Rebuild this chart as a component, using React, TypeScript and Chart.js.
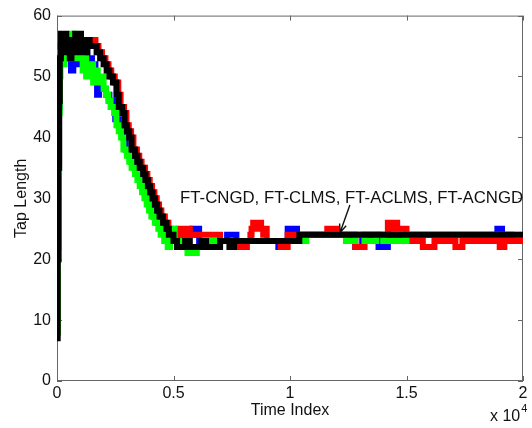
import React, { useEffect, useRef } from 'react';
import { Chart, registerables } from 'chart.js';

Chart.register(...registerables);

// ---- Data (time index, tap length) ----
const blackT = [0,30,60,90,120,170,250,320,400,470,550,620,700,780,860,950,1030,1120,1200,1300,1400,1550,1700,1850,2000,2130,2250,2400,2550,2650,2800,2900,3000,3100,3200,3350,3450,3550,3700,3800,3900,4000,4100,4200,4300,4400,4550,4700,4800,5000,5150,5500,5700,6200,6400,7000,7400,7600,10400,20000];
const blackV = [7,20,35,46,53,57,54,57,54,56,53,56,55,57,54,57,55,56,54,56,55,55,54,53,52,51,50,49,47,45,44,42,41,40,38,37,36,35,34,33,32,31,30,29,28,27,26,25,24,23,22,23,22,23,22,23,22,23,24,24];

const greenT = [0,30,60,90,120,150,250,330,420,520,600,650,720,820,900,1000,1100,1150,1250,1300,1380,1450,1550,1650,1750,1850,2000,2100,2200,2300,2450,2550,2650,2750,2850,3000,3100,3200,3350,3450,3550,3650,3750,3850,3950,4050,4200,4350,4450,4600,4750,4850,4950,5050,5600,6000,6400,10700,12400,12800,13200,13700,14000,15000,20000];
const greenV = [8,20,34,44,50,54,52,54,53,54,53,57,53,54,53,54,51,53,50,52,50,52,49,51,49,50,48,47,46,45,44,42,41,40,38,37,36,35,34,33,32,31,30,29,28,27,26,25,24,23,22,24,25,23,21,22,23,24,23,24,23,24,23,24,24];

const redT = [0,30,60,90,120,170,350,480,600,800,950,1100,1300,1500,1650,1780,1930,2080,2210,2330,2480,2630,2730,2880,2980,3080,3180,3280,3430,3530,3630,3780,3880,3980,4080,4180,4280,4380,4480,4630,4780,4880,5080,5200,5260,5330,5420,5500,5600,5650,5700,7000,7550,8150,8300,8350,8420,8480,8550,8620,8700,8760,8850,8920,9000,9600,9900,11600,11700,11800,12000,12800,13200,14200,14300,14350,14450,14550,14600,15000,15700,16200,17100,17400,19000,19200,20000];
const redV = [8,22,36,47,53,55,56,54,56,54,55,56,55,56,55,54,53,52,51,50,49,47,45,44,42,41,40,38,37,36,35,34,33,32,31,30,29,28,27,26,25,24,23,25,24,25,24,25,24,25,24,23,22,23,24,25,26,25,26,25,26,25,24,25,23,22,24,25,24,25,24,22,24,26,25,26,25,26,25,23,22,23,22,23,22,23,23];

const blueT = [0,30,60,90,120,160,400,500,600,700,800,900,1100,1300,1500,1650,1720,1800,1950,2100,2250,2400,2500,2650,2750,2850,2950,3100,3200,3300,3450,3550,3650,3750,3850,3950,4050,4150,4300,4450,4600,4800,5100,5800,5850,5900,6000,6050,6100,7300,7700,9500,9600,9900,9950,10000,10150,10200,10300,12800,13100,13800,14200,18000,18100,18800,18900,19100,19500,20000];
const blueV = [8,20,35,45,52,55,53,55,51,54,52,55,54,53,52,50,47,49,48,47,46,45,43,42,41,40,38,37,36,35,34,33,32,31,30,29,28,27,26,25,24,23,24,25,24,25,24,25,23,24,23,22,23,25,24,25,24,25,24,22,24,22,24,23,24,23,25,24,23,23];

const xTickValues = [0, 5000, 10000, 15000, 20000];
const xTickLabels = ['0', '0.5', '1', '1.5', '2'];
const yTickValues = [0, 10, 20, 30, 40, 50, 60];

const annotationText = 'FT-CNGD, FT-CLMS, FT-ACLMS, FT-ACNGD';
const annotationAnchor = { x: 5280, y: 29.3 };
const arrowFrom = { x: 12570, y: 28.9 };
const arrowTo = { x: 12150, y: 24.4 };

const FONT_FAMILY = '"Liberation Sans", Arial, Helvetica, sans-serif';

function toPoints(t: number[], v: number[]) {
  return t.map((x, i) => ({ x, y: v[i] }));
}

const decor = {
  id: 'decor',
  beforeDatasetsDraw(chart: any) {
    const { ctx, chartArea: a, scales } = chart;
    const xs = scales.x;
    const ys = scales.y;
    ctx.save();
    ctx.strokeStyle = '#666666';
    ctx.lineWidth = 1;
    ctx.strokeRect(a.left + 0.5, a.top + 0.5, a.right - a.left - 1, a.bottom - a.top - 1);
    ctx.beginPath();
    const tl = 5;
    for (const v of xTickValues) {
      const px = Math.round(xs.getPixelForValue(v)) + 0.5;
      ctx.moveTo(px, a.bottom);
      ctx.lineTo(px, a.bottom - tl);
      ctx.moveTo(px, a.top);
      ctx.lineTo(px, a.top + tl);
    }
    for (const v of yTickValues) {
      const py = Math.round(ys.getPixelForValue(v)) + 0.5;
      ctx.moveTo(a.left, py);
      ctx.lineTo(a.left + tl, py);
      ctx.moveTo(a.right, py);
      ctx.lineTo(a.right - tl, py);
    }
    ctx.stroke();
    ctx.restore();
  },
  afterDatasetsDraw(chart: any) {
    const { ctx, chartArea: a, scales } = chart;
    const xs = scales.x;
    const ys = scales.y;
    ctx.save();
    ctx.fillStyle = '#111';
    ctx.font = `16.8px ${FONT_FAMILY}`;
    ctx.textBaseline = 'alphabetic';
    ctx.textAlign = 'left';
    ctx.fillText(annotationText, xs.getPixelForValue(annotationAnchor.x), ys.getPixelForValue(annotationAnchor.y));

    // arrow
    const x1 = xs.getPixelForValue(arrowFrom.x);
    const y1 = ys.getPixelForValue(arrowFrom.y);
    const x2 = xs.getPixelForValue(arrowTo.x);
    const y2 = ys.getPixelForValue(arrowTo.y);
    ctx.strokeStyle = '#111';
    ctx.lineWidth = 1.4;
    ctx.beginPath();
    ctx.moveTo(x1, y1);
    ctx.lineTo(x2, y2);
    const ang = Math.atan2(y2 - y1, x2 - x1);
    const hl = 9;
    ctx.moveTo(x2, y2);
    ctx.lineTo(x2 - hl * Math.cos(ang - 0.4), y2 - hl * Math.sin(ang - 0.4));
    ctx.moveTo(x2, y2);
    ctx.lineTo(x2 - hl * Math.cos(ang + 0.4), y2 - hl * Math.sin(ang + 0.4));
    ctx.stroke();

    // exponent label
    ctx.font = `16px ${FONT_FAMILY}`;
    ctx.fillText('x 10', a.right - 33, 421);
    const w = ctx.measureText('x 10').width;
    ctx.font = `11px ${FONT_FAMILY}`;
    ctx.fillText('4', a.right - 33 + w + 1, 412);
    ctx.restore();
  },
};

export default function App() {
  const ref = useRef<HTMLCanvasElement | null>(null);

  useEffect(() => {
    if (!ref.current) return;
    const tickFont = { family: FONT_FAMILY, size: 16 };
    const common = {
      borderWidth: 6,
      pointRadius: 0,
      stepped: true,
      tension: 0,
      fill: false,
      borderJoinStyle: 'miter' as const,
      borderCapStyle: 'butt' as const,
    };
    const chart = new Chart(ref.current, {
      type: 'line',
      data: {
        datasets: [
          { ...common, label: 'FT-ACNGD', data: toPoints(blackT, blackV), borderColor: '#000000', order: 0 },
          { ...common, label: 'FT-ACLMS', data: toPoints(greenT, greenV), borderColor: '#00ff00', order: 1 },
          { ...common, label: 'FT-CLMS', data: toPoints(redT, redV), borderColor: '#ff0000', order: 2 },
          { ...common, label: 'FT-CNGD', data: toPoints(blueT, blueV), borderColor: '#0000ff', order: 3 },
        ],
      },
      options: {
        responsive: false,
        animation: false,
        devicePixelRatio: 1,
        layout: { padding: { top: 11, right: 9, left: 0, bottom: 0 } },
        plugins: { legend: { display: false }, tooltip: { enabled: false } },
        scales: {
          x: {
            type: 'linear',
            min: 0,
            max: 20000,
            afterBuildTicks: (s: any) => {
              s.ticks = xTickValues.map((v) => ({ value: v }));
            },
            ticks: {
              autoSkip: false,
              maxRotation: 0,
              padding: 3,
              color: '#111',
              font: tickFont,
              callback: (v: any) => xTickLabels[xTickValues.indexOf(Number(v))] ?? '',
            },
            grid: { display: false, drawTicks: false },
            border: { display: false },
            title: {
              display: true,
              text: 'Time Index',
              color: '#111',
              font: tickFont,
              padding: { top: 0, bottom: 8 },
            },
            afterFit: (s: any) => {
              s.height = 47;
            },
          },
          y: {
            type: 'linear',
            min: 0,
            max: 60,
            afterBuildTicks: (s: any) => {
              s.ticks = yTickValues.map((v) => ({ value: v }));
            },
            ticks: {
              autoSkip: false,
              padding: 6,
              color: '#111',
              font: tickFont,
            },
            grid: { display: false, drawTicks: false },
            border: { display: false },
            title: {
              display: true,
              text: 'Tap Length',
              color: '#111',
              font: tickFont,
              padding: { top: 12, bottom: 0 },
            },
            afterFit: (s: any) => {
              s.width = 57;
            },
          },
        },
      },
      plugins: [decor],
    });
    return () => chart.destroy();
  }, []);

  return (
    <div style={{ position: 'absolute', left: 0, top: 0, width: 532, height: 428, background: '#fff' }}>
      <canvas ref={ref} width={532} height={428} style={{ width: 532, height: 428, display: 'block' }} />
    </div>
  );
}
